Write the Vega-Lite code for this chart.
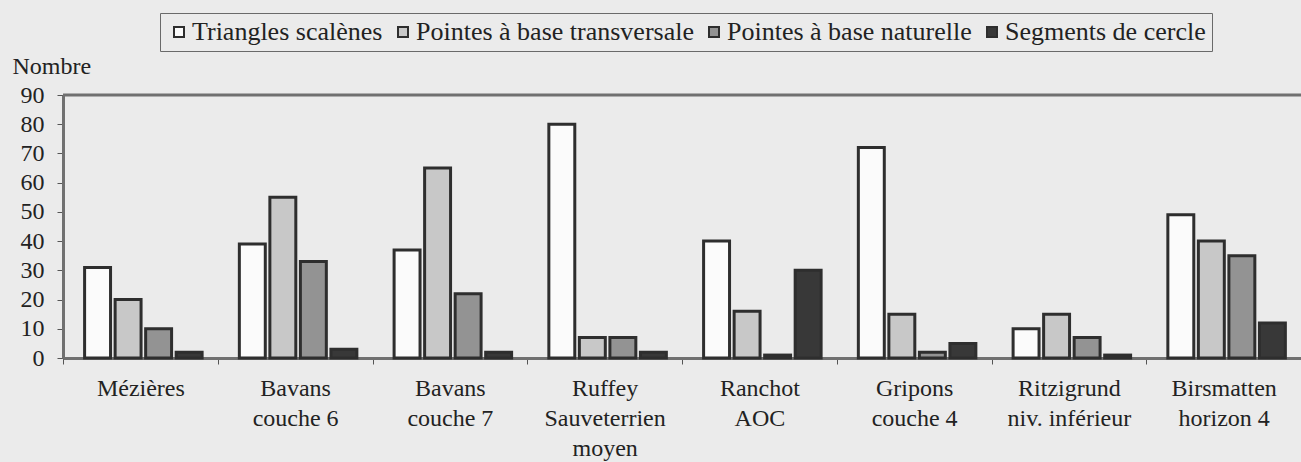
{
  "$schema": "https://vega.github.io/schema/vega-lite/v6.json",
  "width": 1238,
  "height": 263,
  "autosize": {"type": "none"},
  "padding": {"left": 63, "top": 95, "right": 0, "bottom": 104},
  "background": "#ebebeb",
  "config": {
    "view": {"stroke": null},
    "font": "Liberation Serif",
    "axis": {"labelOverlap": false, "labelSeparation": 0},
    "axisY": {"labelOverlap": false, "labelSeparation": 0, "labelBound": false}
  },
  "data": {
    "values": [
      {"site": "Mézières", "type": "Triangles scalènes", "n": 31},
      {"site": "Mézières", "type": "Pointes à base transversale", "n": 20},
      {"site": "Mézières", "type": "Pointes à base naturelle", "n": 10},
      {"site": "Mézières", "type": "Segments de cercle", "n": 2},
      {"site": "Bavans|couche 6", "type": "Triangles scalènes", "n": 39},
      {"site": "Bavans|couche 6", "type": "Pointes à base transversale", "n": 55},
      {"site": "Bavans|couche 6", "type": "Pointes à base naturelle", "n": 33},
      {"site": "Bavans|couche 6", "type": "Segments de cercle", "n": 3},
      {"site": "Bavans|couche 7", "type": "Triangles scalènes", "n": 37},
      {"site": "Bavans|couche 7", "type": "Pointes à base transversale", "n": 65},
      {"site": "Bavans|couche 7", "type": "Pointes à base naturelle", "n": 22},
      {"site": "Bavans|couche 7", "type": "Segments de cercle", "n": 2},
      {"site": "Ruffey|Sauveterrien|moyen", "type": "Triangles scalènes", "n": 80},
      {"site": "Ruffey|Sauveterrien|moyen", "type": "Pointes à base transversale", "n": 7},
      {"site": "Ruffey|Sauveterrien|moyen", "type": "Pointes à base naturelle", "n": 7},
      {"site": "Ruffey|Sauveterrien|moyen", "type": "Segments de cercle", "n": 2},
      {"site": "Ranchot|AOC", "type": "Triangles scalènes", "n": 40},
      {"site": "Ranchot|AOC", "type": "Pointes à base transversale", "n": 16},
      {"site": "Ranchot|AOC", "type": "Pointes à base naturelle", "n": 1},
      {"site": "Ranchot|AOC", "type": "Segments de cercle", "n": 30},
      {"site": "Gripons|couche 4", "type": "Triangles scalènes", "n": 72},
      {"site": "Gripons|couche 4", "type": "Pointes à base transversale", "n": 15},
      {"site": "Gripons|couche 4", "type": "Pointes à base naturelle", "n": 2},
      {"site": "Gripons|couche 4", "type": "Segments de cercle", "n": 5},
      {"site": "Ritzigrund|niv. inférieur", "type": "Triangles scalènes", "n": 10},
      {"site": "Ritzigrund|niv. inférieur", "type": "Pointes à base transversale", "n": 15},
      {"site": "Ritzigrund|niv. inférieur", "type": "Pointes à base naturelle", "n": 7},
      {"site": "Ritzigrund|niv. inférieur", "type": "Segments de cercle", "n": 1},
      {"site": "Birsmatten|horizon 4", "type": "Triangles scalènes", "n": 49},
      {"site": "Birsmatten|horizon 4", "type": "Pointes à base transversale", "n": 40},
      {"site": "Birsmatten|horizon 4", "type": "Pointes à base naturelle", "n": 35},
      {"site": "Birsmatten|horizon 4", "type": "Segments de cercle", "n": 12}
    ]
  },
  "resolve": {"axis": {"y": "independent"}},
  "layer": [
    {
      "mark": {"type": "bar", "stroke": "#2e2e2e", "strokeWidth": 3},
      "encoding": {
        "x": {
          "field": "site",
          "type": "nominal",
          "sort": null,
          "title": null,
          "scale": {"paddingInner": 0, "paddingOuter": 0},
          "axis": {
            "labelExpr": "split(datum.label, '|')",
            "labelAngle": 0,
            "labelFont": "Liberation Serif",
            "labelFontSize": 24,
            "labelColor": "#222222",
            "labelLineHeight": 30,
            "labelBaseline": "top",
            "labelPadding": 12,
            "labelLimit": 0,
            "labelOverlap": false,
            "tickBand": "extent",
            "tickSize": 6,
            "tickColor": "#555555",
            "domainColor": "#707070",
            "domainWidth": 3
          }
        },
        "xOffset": {
          "field": "type",
          "type": "nominal",
          "scale": {
            "domain": ["Triangles scalènes", "Pointes à base transversale", "Pointes à base naturelle", "Segments de cercle"],
            "paddingInner": 0.15, "paddingOuter": 0.61, "align": 0.58
          }
        },
        "y": {
          "field": "n",
          "type": "quantitative",
          "stack": null,
          "scale": {"domain": [0, 90], "nice": false},
          "axis": {
            "values": [0, 10, 20, 30, 40, 50, 60, 70, 80, 90],
            "title": "Nombre",
            "titleAngle": 0,
            "titleAlign": "left",
            "titleBaseline": "middle",
            "titleX": -51,
            "titleY": -29,
            "titleFont": "Liberation Serif",
            "titleFontSize": 24,
            "titleFontWeight": "normal",
            "titleColor": "#222222",
            "labelFont": "Liberation Serif",
            "labelFontSize": 24,
            "labelColor": "#222222",
            "labelPadding": 13,
            "labelOverlap": false,
            "labelSeparation": 0,
            "labelFlush": false,
            "tickSize": 6,
            "tickColor": "#555555",
            "domainColor": "#707070",
            "domainWidth": 3,
            "grid": false
          }
        },
        "fill": {
          "field": "type",
          "type": "nominal",
          "scale": {
            "domain": ["Triangles scalènes", "Pointes à base transversale", "Pointes à base naturelle", "Segments de cercle"],
            "range": ["#fbfbfb", "#c8c8c8", "#939393", "#383838"]
          },
          "legend": {
            "orient": "none",
            "legendX": 97,
            "legendY": -82,
            "direction": "horizontal",
            "title": null,
            "labelFont": "Liberation Serif",
            "labelFontSize": 26,
            "labelColor": "#222222",
            "labelLimit": 0,
            "symbolType": "square",
            "symbolSize": 100,
            "symbolStrokeColor": "#2e2e2e",
            "symbolStrokeWidth": 2,
            "labelOffset": 0,
            "columnPadding": 7,
            "padding": 6,
            "strokeColor": "#6a6a6a"
          }
        }
      }
    },
    {
      "data": {"values": [{"top": 90}]},
      "mark": {"type": "rule", "color": "#707070", "strokeWidth": 3},
      "encoding": {"y": {"field": "top", "type": "quantitative", "axis": null}}
    }
  ]
}
